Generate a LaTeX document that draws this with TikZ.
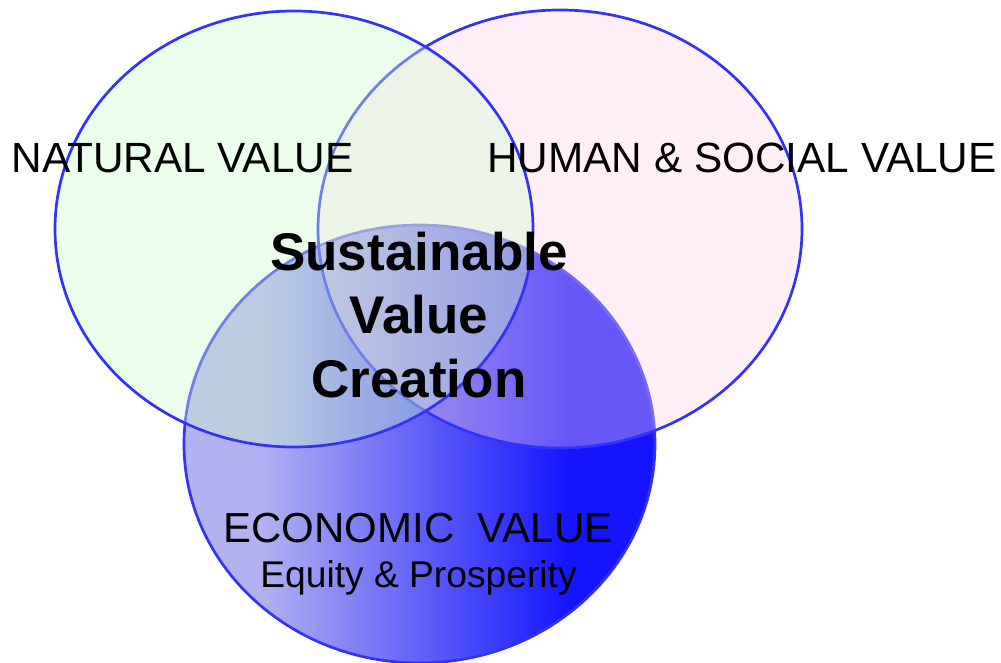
\documentclass[tikz,border=0pt]{standalone}
\usepackage{fontspec}
\setmainfont{Liberation Sans}
\definecolor{rimblue}{RGB}{50,50,250}
\definecolor{natgreen}{RGB}{204,250,204}
\definecolor{humpink}{RGB}{255,212,232}
\definecolor{ecolav}{RGB}{178,178,240}
\definecolor{ecoblue}{RGB}{20,20,255}
\pgfdeclarehorizontalshading{econshade}{100bp}{color(0bp)=(ecolav); color(33bp)=(ecolav); color(66bp)=(ecoblue); color(100bp)=(ecoblue)}

\begin{document}
\begin{tikzpicture}[x=1pt,y=-1pt,line width=2.7pt,
    valuering/.style={draw=rimblue,fill=#1},
    ringlabel/.style={anchor=base,inner sep=0pt,font=\fontsize{42.3}{50}\selectfont}]
    \useasboundingbox (0,0) rectangle (1001,663);
    % economic value lies underneath the other two
    \path[shading=econshade,draw=rimblue] (419.5,444) ellipse [x radius=235.5, y radius=219];
    \path[valuering=humpink,fill opacity=0.35] (560,229) ellipse [x radius=242, y radius=219];
    \path[valuering=natgreen,fill opacity=0.39] (294,229) ellipse [x radius=239, y radius=218];
    \node[ringlabel] (natural) at (182.5,173) {NATURAL VALUE};
    \node[ringlabel] (human) at (742,173) {HUMAN \& SOCIAL VALUE};
    \node[anchor=base,inner sep=0pt,align=center,font=\fontsize{53}{63.5}\selectfont\bfseries] (core) at (419,397) {Sustainable\\Value\\Creation};
    \node[anchor=base,inner sep=0pt,font=\fontsize{42}{50}\selectfont] (economic) at (418,542) {ECONOMIC\ \ VALUE};
    \node[anchor=base,inner sep=0pt,font=\fontsize{37.2}{44}\selectfont] (equity) at (418.5,587) {Equity \& Prosperity};
\end{tikzpicture}
\end{document}
